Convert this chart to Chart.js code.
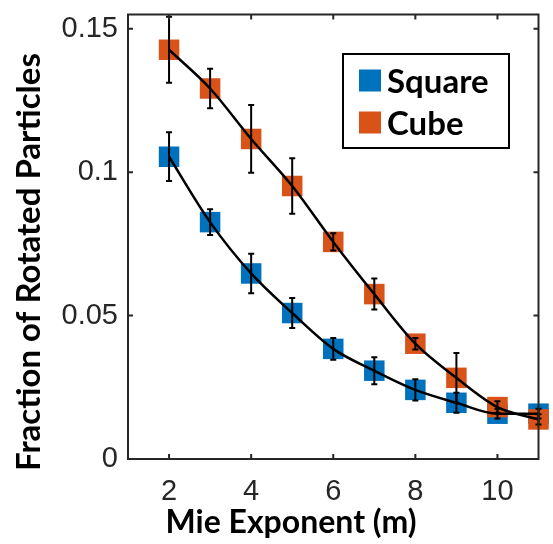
<!DOCTYPE html>
<html>
<head>
<meta charset="utf-8">
<script src="https://cdn.jsdelivr.net/npm/chart.js@4/dist/chart.umd.min.js"></script>
<style>
  html, body { margin: 0; padding: 0; background: #fff; }
  #wrap { width: 553px; height: 544px; }
</style>
</head>
<body>
<div id="wrap"><canvas id="grafico" width="553" height="544"></canvas></div>
<script>
// valores
var mie = [2, 3, 4, 5, 6, 7, 8, 9, 10, 11];
var square = [0.1054, 0.0826, 0.0647, 0.0509, 0.0384, 0.0308, 0.0241, 0.0196, 0.0158, 0.0158];
var squareErr = [0.0085, 0.0045, 0.0069, 0.0052, 0.0038, 0.0047, 0.0037, 0.0035, 0.0017, 0.0017];
var cube = [0.1427, 0.1292, 0.1116, 0.0952, 0.0757, 0.0575, 0.0402, 0.0283, 0.0181, 0.0138];
var cubeErr = [0.0115, 0.0069, 0.0118, 0.0097, 0.0030, 0.0054, 0.0020, 0.0087, 0.0020, 0.0018];
var xTicks = [2, 4, 6, 8, 10];
var yTicks = [0, 0.05, 0.1, 0.15];
var yTickLabels = ["0", "0.05", "0.1", "0.15"];
var tituloX = "Mie Exponent (m)";
var tituloY = "Fraction of Rotated Particles";

var azul = "#0072BD";
var laranja = "#D95319";
var eixo = "#262626";

function pts(ys) { return mie.map((m, i) => ({ x: m, y: ys[i] })); }

// barras de erro, desenhadas por cima
var barrasErro = {
  id: "barrasErro",
  afterDatasetsDraw(chart) {
    var ctx = chart.ctx, xs = chart.scales.x, ys = chart.scales.y;
    ctx.save();
    ctx.strokeStyle = "#000";
    ctx.lineWidth = 2;
    [[square, squareErr], [cube, cubeErr]].forEach(function (s) {
      mie.forEach(function (m, i) {
        var px = xs.getPixelForValue(m);
        var top = ys.getPixelForValue(s[0][i] + s[1][i]);
        var bot = ys.getPixelForValue(s[0][i] - s[1][i]);
        ctx.beginPath();
        ctx.moveTo(px, top); ctx.lineTo(px, bot);
        ctx.moveTo(px - 3, top); ctx.lineTo(px + 3, top);
        ctx.moveTo(px - 3, bot); ctx.lineTo(px + 3, bot);
        ctx.stroke();
      });
    });
    ctx.restore();
  }
};

// moldura com ticks para dentro (estilo matlab), titulos e legenda dentro do grafico
var moldura = {
  id: "moldura",
  afterDraw(chart) {
    var ctx = chart.ctx, a = chart.chartArea, xs = chart.scales.x, ys = chart.scales.y;
    ctx.save();
    ctx.strokeStyle = eixo;
    ctx.lineWidth = 2;
    ctx.strokeRect(a.left, a.top, a.right - a.left, a.bottom - a.top);
    ctx.beginPath();
    xTicks.forEach(function (t) {
      var px = xs.getPixelForValue(t);
      ctx.moveTo(px, a.bottom); ctx.lineTo(px, a.bottom - 5);
      ctx.moveTo(px, a.top); ctx.lineTo(px, a.top + 5);
    });
    yTicks.forEach(function (t) {
      var py = ys.getPixelForValue(t);
      ctx.moveTo(a.left, py); ctx.lineTo(a.left + 5, py);
      ctx.moveTo(a.right, py); ctx.lineTo(a.right - 5, py);
    });
    ctx.stroke();

    // titulos dos eixos
    ctx.fillStyle = "#000";
    ctx.textAlign = "center";
    ctx.textBaseline = "alphabetic";
    ctx.font = "bold 32px Lato";
    ctx.fillText(tituloX, 291, 533);
    ctx.save();
    ctx.translate(40, 262);
    ctx.rotate(-Math.PI / 2);
    ctx.font = "bold 33px Lato";
    ctx.fillText(tituloY, 0, 0);
    ctx.restore();

    // legenda
    var lx = 343, ly = 54, lw = 166, lh = 94;
    ctx.fillStyle = "#fff";
    ctx.fillRect(lx, ly, lw, lh);
    ctx.strokeStyle = "#000";
    ctx.lineWidth = 2;
    ctx.strokeRect(lx, ly, lw, lh);
    var itens = [["Square", azul], ["Cube", laranja]];
    ctx.font = "bold 33px Lato";
    ctx.textAlign = "left";
    itens.forEach(function (it, i) {
      var cy = 80.5 + i * 42;
      ctx.fillStyle = it[1];
      ctx.fillRect(lx + 16, cy - 11, 22, 22);
      ctx.fillStyle = "#000";
      ctx.fillText(it[0], lx + 44, cy + 12);
    });
    ctx.restore();
  }
};

new Chart(document.getElementById("grafico").getContext("2d"), {
  type: "line",
  data: {
    datasets: [
      { label: "fit square", data: pts(square), borderColor: "#000", borderWidth: 2.5,
        pointRadius: 0, tension: 0.3, cubicInterpolationMode: "monotone", order: 0, clip: false },
      { label: "fit cube", data: pts(cube), borderColor: "#000", borderWidth: 2.5,
        pointRadius: 0, tension: 0.3, cubicInterpolationMode: "monotone", order: 0, clip: false },
      { label: "Square", data: pts(square), showLine: false, pointStyle: "rect",
        pointRadius: 14.5, backgroundColor: azul, borderColor: azul, borderWidth: 0, order: 2, clip: false },
      { label: "Cube", data: pts(cube), showLine: false, pointStyle: "rect",
        pointRadius: 14.5, backgroundColor: laranja, borderColor: laranja, borderWidth: 0, order: 1, clip: false }
    ]
  },
  options: {
    responsive: false,
    animation: false,
    layout: { padding: { top: 11, right: 9, left: 0, bottom: 0 } },
    plugins: { legend: { display: false }, tooltip: { enabled: false } },
    scales: {
      x: {
        type: "linear", min: 1, max: 11,
        grid: { display: false, drawTicks: false },
        border: { display: false },
        afterBuildTicks: s => { s.ticks = xTicks.map(v => ({ value: v })); },
        afterFit: s => { s.height = 85; s.paddingLeft = 0; s.paddingRight = 0; },
        ticks: { color: eixo, font: { family: "Liberation Sans", size: 29 }, padding: 16 }
      },
      y: {
        min: 0, max: 0.155,
        grid: { display: false, drawTicks: false },
        border: { display: false },
        afterBuildTicks: s => { s.ticks = yTicks.map(v => ({ value: v })); },
        afterFit: s => { s.width = 128; s.paddingTop = 0; s.paddingBottom = 0; },
        ticks: { color: eixo, font: { family: "Liberation Sans", size: 29 }, padding: 10,
          callback: v => yTickLabels[yTicks.indexOf(v)] }
      }
    }
  },
  plugins: [barrasErro, moldura]
});
</script>
</body>
</html>
